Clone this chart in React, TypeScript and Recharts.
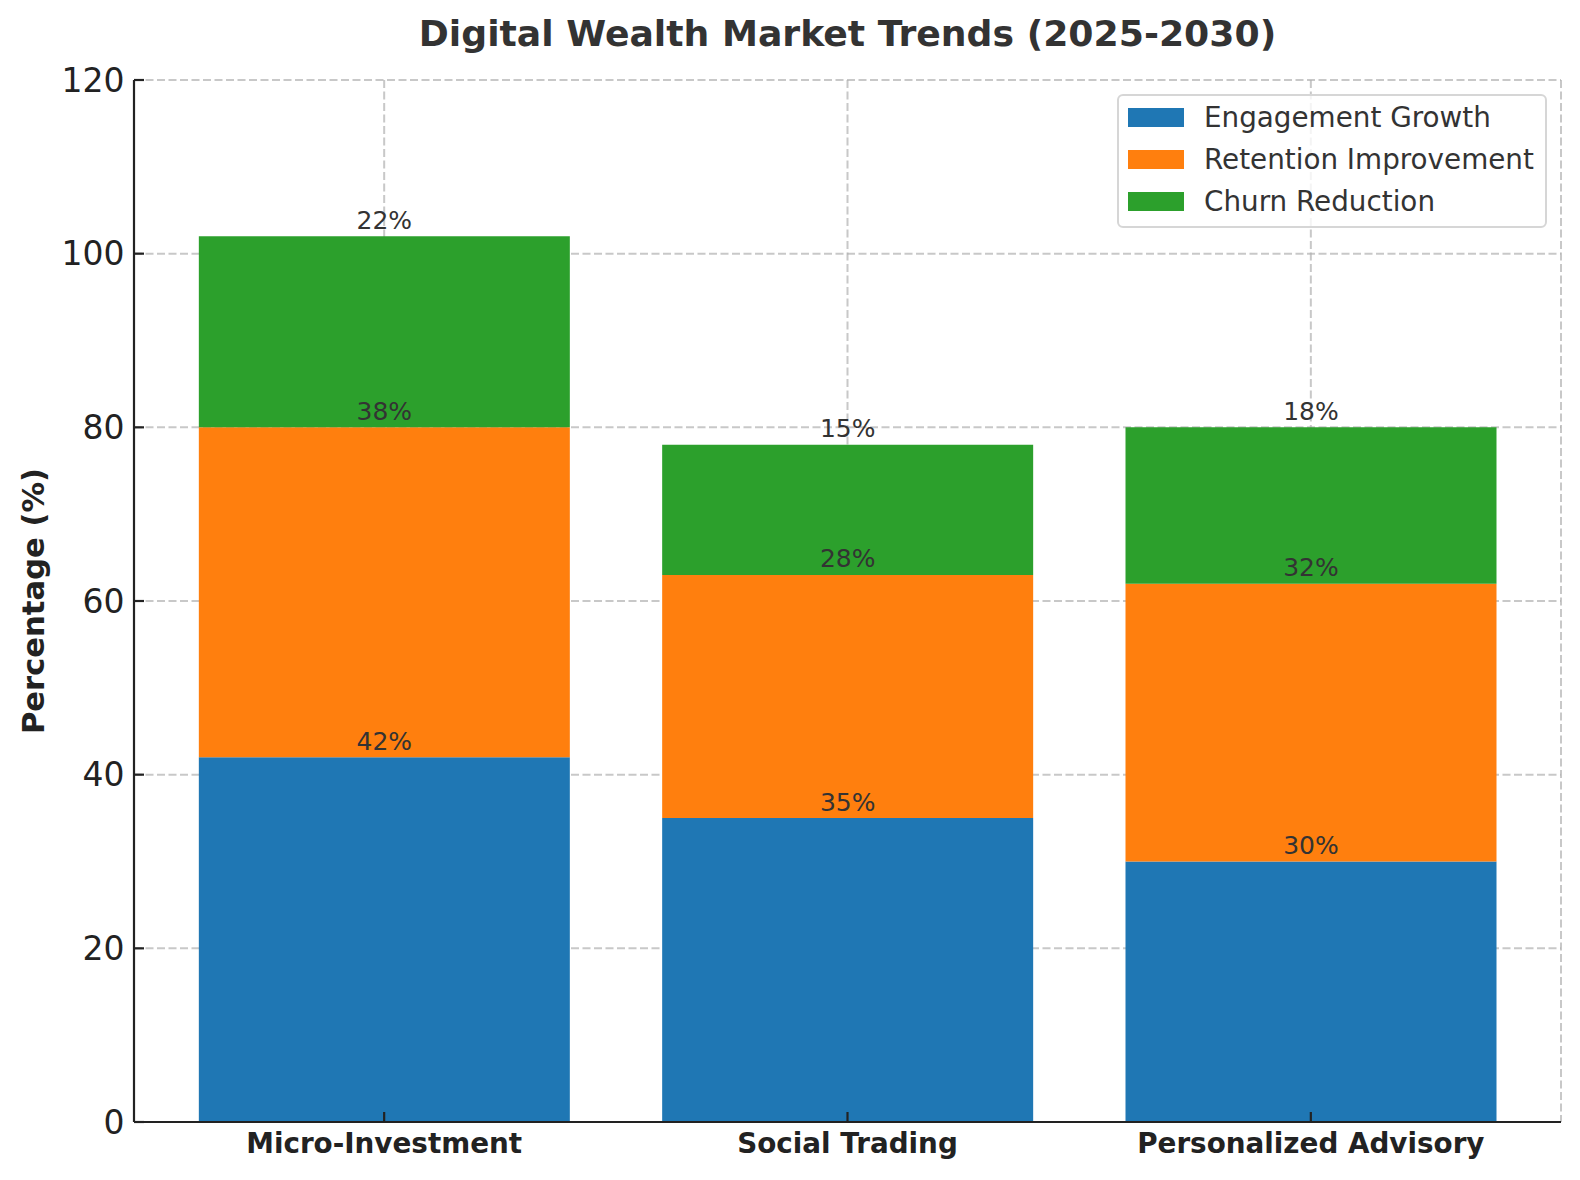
import React from 'react';
import { Bar, BarChart, CartesianGrid, LabelList, Legend, XAxis, YAxis } from 'recharts';

// values
const categories = ['Micro-Investment', 'Social Trading', 'Personalized Advisory'];
const engagementGrowth = [42, 35, 30];
const retentionImprovement = [38, 28, 32];
const churnReduction = [22, 15, 18];
const seriesNames = ['Engagement Growth', 'Retention Improvement', 'Churn Reduction'];
const yTicks = [0, 20, 40, 60, 80, 100, 120];

const rows = categories.map((category, i) => ({
  category,
  engagement: engagementGrowth[i],
  retention: retentionImprovement[i],
  churn: churnReduction[i],
}));

const FONT = '"DejaVu Sans", Verdana, sans-serif';
const INK = '#222222';

const renderLegend = (props: any) => {
  const payload = [...(props.payload || [])].sort(
    (a: any, b: any) => seriesNames.indexOf(a.value) - seriesNames.indexOf(b.value)
  );
  return (
    <div
      style={{
        boxSizing: 'border-box',
        width: 430,
        height: 134,
        border: '2px solid #d6d6d6',
        borderRadius: 6,
        background: 'rgba(255,255,255,0.8)',
        padding: '0.5px 0 3.5px 0',
        fontFamily: FONT,
      }}
    >
      {payload.map((entry: any) => (
        <div key={entry.value} style={{ display: 'flex', alignItems: 'center', height: 42 }}>
          <span style={{ display: 'block', width: 56, height: 19, marginLeft: 9, background: entry.color }} />
          <span style={{ marginLeft: 20, fontSize: 27.8, lineHeight: 1, color: '#333333' }}>{entry.value}</span>
        </div>
      ))}
    </div>
  );
};

const pct = (v: any) => `${v}%`;

export default function App() {
  return (
    <div style={{ position: 'absolute', left: 0, top: 0, width: 1580, height: 1180, background: '#fff', fontFamily: FONT }}>
      <BarChart
        width={1580}
        height={1180}
        data={rows}
        margin={{ top: 80, right: 19, bottom: 0, left: 0 }}
        barCategoryGap="10%"
      >
        <Bar dataKey="engagement" name={seriesNames[0]} stackId="s" fill="#1f77b4" isAnimationActive={false}>
          <LabelList dataKey="engagement" position="top" offset={7.5} formatter={pct} fill="#333333" fontSize={25} />
        </Bar>
        <Bar dataKey="retention" name={seriesNames[1]} stackId="s" fill="#ff7f0e" isAnimationActive={false}>
          <LabelList dataKey="retention" position="top" offset={7.5} formatter={pct} fill="#333333" fontSize={25} />
        </Bar>
        <Bar dataKey="churn" name={seriesNames[2]} stackId="s" fill="#2ca02c" isAnimationActive={false}>
          <LabelList dataKey="churn" position="top" offset={7.5} formatter={pct} fill="#333333" fontSize={25} />
        </Bar>
        <CartesianGrid
          stroke="#b0b0b0"
          strokeOpacity={0.7}
          strokeWidth={2}
          strokeDasharray="8 3.5"
          zIndex={100}
        />
        <XAxis
          dataKey="category"
          interval={0}
          height={58}
          padding={{ left: 18.5, right: 18.5 }}
          tickSize={-10}
          tickMargin={21.6}
          axisLine={{ stroke: INK, strokeWidth: 2.2 }}
          tickLine={{ stroke: INK, strokeWidth: 2.2 }}
          tick={{ fill: INK, fontSize: 27.8, fontWeight: 'bold' }}
        />
        <YAxis
          width={134}
          domain={[0, 120]}
          ticks={yTicks}
          interval={0}
          tickSize={-10}
          tickMargin={19.5}
          axisLine={{ stroke: INK, strokeWidth: 2.2 }}
          tickLine={{ stroke: INK, strokeWidth: 2.2 }}
          tick={{ fill: INK, fontSize: 33 }}
          label={{
            value: 'Percentage (%)',
            angle: -90,
            position: 'insideLeft',
            offset: 33.5,
            fill: INK,
            fontSize: 30.6,
            fontWeight: 'bold',
            style: { textAnchor: 'middle' },
          }}
        />
        <Legend
          layout="vertical"
          align="center"
          verticalAlign="middle"
          content={renderLegend}
          wrapperStyle={{ top: 94, left: 1117, width: 430, height: 134 }}
        />
      </BarChart>
      <svg width={1580} height={80} style={{ position: 'absolute', left: 0, top: 0, pointerEvents: 'none' }}>
        <text x={847.5} y={45.7} textAnchor="middle" fontSize={36.2} fontWeight="bold" fill="#333333" fontFamily={FONT}>
          Digital Wealth Market Trends (2025-2030)
        </text>
      </svg>
    </div>
  );
}
